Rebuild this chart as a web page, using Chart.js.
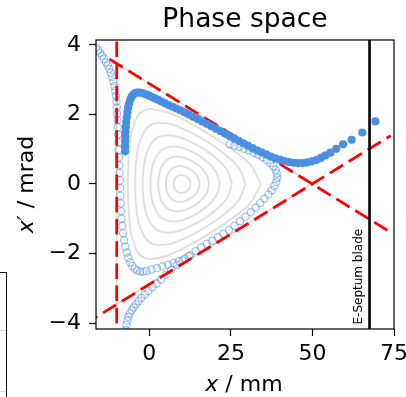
<!DOCTYPE html>
<html>
<head>
<meta charset="utf-8">
<script src="https://cdn.jsdelivr.net/npm/chart.js@4.4.1/dist/chart.umd.min.js"></script>
<style>
  html, body { margin: 0; padding: 0; background: #fff; overflow: hidden; }
  #wrap { position: relative; width: 406px; height: 397px; overflow: hidden; }
  #chart { position: absolute; left: 0; top: 0; }
  .edge { position: absolute; left: -20px; top: 272px; width: 27px; height: 200px; box-sizing: border-box; border: 1.5px solid #111; }
  .hint { position: absolute; left: 0; width: 6px; height: 1px; background: #ddd; }
</style>
</head>
<body>
<div id="wrap">
  <canvas id="chart" width="406" height="397"></canvas>
  <div class="edge"></div>
  <div class="hint" style="top:330px"></div>
  <div class="hint" style="top:391px"></div>
</div>
<script>
const titleText = 'Phase space';
const xTicks = [0, 25, 50, 75];
const yTicks = [-4, -2, 0, 2, 4];
const xRange = [-16.35, 75];
const yRange = [-4.17, 4.14];

// closed invariant curves, [x mm, x' mrad]
const ring1 = [[12.66,0],[12.55,0.068],[12.25,0.13],[11.81,0.181],[11.28,0.221],[10.66,0.247],[10,0.26],[9.32,0.255],[8.67,0.23],[8.13,0.187],[7.75,0.13],[7.53,0.066],[7.45,0],[7.53,-0.066],[7.75,-0.13],[8.13,-0.187],[8.67,-0.23],[9.32,-0.255],[10,-0.26],[10.66,-0.247],[11.28,-0.221],[11.81,-0.181],[12.25,-0.13],[12.55,-0.068],[12.66,0]];
const ring2 = [[15.35,0],[15.09,0.137],[14.42,0.255],[13.51,0.351],[12.45,0.424],[11.28,0.479],[10,0.51],[8.64,0.509],[7.33,0.463],[6.27,0.373],[5.58,0.255],[5.21,0.128],[5.1,0],[5.21,-0.128],[5.58,-0.255],[6.27,-0.373],[7.33,-0.463],[8.64,-0.509],[10,-0.51],[11.28,-0.479],[12.45,-0.424],[13.51,-0.351],[14.42,-0.255],[15.09,-0.137],[15.35,0]];
const ring3 = [[18.3,0],[17.81,0.21],[16.67,0.385],[15.22,0.522],[13.64,0.63],[11.91,0.713],[10,0.77],[7.91,0.781],[5.85,0.719],[4.28,0.572],[3.33,0.385],[2.87,0.191],[2.73,0],[2.87,-0.191],[3.33,-0.385],[4.28,-0.572],[5.85,-0.719],[7.91,-0.781],[10,-0.77],[11.91,-0.713],[13.64,-0.63],[15.22,-0.522],[16.67,-0.385],[17.81,-0.21],[18.3,0]];
const ring4 = [[21.58,0],[20.78,0.289],[19.01,0.52],[16.96,0.696],[14.83,0.836],[12.55,0.951],[10,1.04],[7.11,1.078],[4.21,1.003],[2.11,0.789],[0.99,0.52],[0.49,0.255],[0.35,0],[0.49,-0.255],[0.99,-0.52],[2.11,-0.789],[4.21,-1.003],[7.11,-1.078],[10,-1.04],[12.55,-0.951],[14.83,-0.836],[16.96,-0.696],[19.01,-0.52],[20.78,-0.289],[21.58,0]];
const ring5 = [[25.29,0],[24.01,0.376],[21.43,0.66],[18.72,0.872],[16.03,1.044],[13.19,1.191],[10,1.32],[6.24,1.401],[2.36,1.324],[-0.25,1.025],[-1.43,0.66],[-1.91,0.319],[-2.05,0],[-1.91,-0.319],[-1.43,-0.66],[-0.25,-1.025],[2.36,-1.324],[6.24,-1.401],[10,-1.32],[13.19,-1.191],[16.03,-1.044],[18.72,-0.872],[21.43,-0.66],[24.01,-0.376],[25.29,0]];
const ring6 = [[29.48,0],[27.43,0.467],[23.86,0.8],[20.44,1.044],[17.19,1.244],[13.83,1.427],[10,1.6],[5.33,1.743],[0.26,1.687],[-2.75,1.275],[-3.86,0.8],[-4.27,0.383],[-4.37,0],[-4.27,-0.383],[-3.86,-0.8],[-2.75,-1.275],[0.26,-1.687],[5.33,-1.743],[10,-1.6],[13.83,-1.427],[17.19,-1.244],[20.44,-1.044],[23.86,-0.8],[27.43,-0.467],[29.48,0]];
const ring7 = [[34.2,0],[30.92,0.561],[26.19,0.935],[22.06,1.206],[18.28,1.433],[14.42,1.648],[10,1.87],[4.39,2.092],[-2.1,2.096],[-5.31,1.531],[-6.19,0.935],[-6.48,0.442],[-6.55,0],[-6.48,-0.442],[-6.19,-0.935],[-5.31,-1.531],[-2.1,-2.096],[4.39,-2.092],[10,-1.87],[14.42,-1.648],[18.28,-1.433],[22.06,-1.206],[26.19,-0.935],[30.92,-0.561],[34.2,0]];
const rings = [ring1, ring2, ring3, ring4, ring5, ring6, ring7];

const separatrix = [[-10, 3.46], [50, 0], [-10, -3.46], [-10, 3.46]];

// turn-by-turn particle just outside the stable area (open markers)
const openTrack1 = [[-16.3,3.92],[-15.7,3.85],[-15.1,3.77],[-14.5,3.69],[-13.9,3.6],[-13.3,3.5],[-12.8,3.41],[-12.3,3.31],[-11.8,3.2],[-11.4,3.08],[-11.0,2.95],[-10.7,2.82],[-10.45,2.68],[-10.25,2.53],[-10.1,2.37],[-9.98,2.2],[-9.88,2.02],[-9.78,1.83],[-9.68,1.63],[-9.58,1.42],[-9.48,1.2],[-9.38,0.98],[-9.28,0.76],[-9.18,0.54],[-9.1,0.32],[-9.03,0.1],[-8.96,-0.12],[-8.88,-0.34],[-8.78,-0.56],[-8.65,-0.78],[-8.5,-1.0],[-8.3,-1.21],[-8.05,-1.42],[-7.75,-1.62],[-7.38,-1.8],[-6.95,-1.97],[-6.45,-2.12],[-5.85,-2.25],[-5.2,-2.36],[-4.45,-2.44],[-3.65,-2.49],[-2.8,-2.52],[-1.9,-2.52],[-0.9,-2.5],[0.7,-2.46],[2.3,-2.42],[4.0,-2.37],[5.7,-2.32],[7.4,-2.27],[9.1,-2.22],[10.8,-2.15],[12.5,-2.05],[14.2,-1.93],[15.9,-1.82],[17.6,-1.72],[19.3,-1.63],[21.0,-1.53],[22.7,-1.43],[24.4,-1.32],[26.1,-1.2],[27.8,-1.07],[29.5,-0.94],[31.1,-0.81],[32.6,-0.68],[34.0,-0.55],[35.3,-0.42],[36.5,-0.3],[37.5,-0.18],[38.3,-0.06],[38.9,0.06],[39.2,0.18],[39.1,0.3],[38.7,0.41],[38.0,0.51],[37.1,0.6],[36.0,0.69],[34.8,0.77],[33.5,0.84],[32.1,0.9],[30.6,0.96],[29.1,1.01],[27.6,1.06],[26.1,1.1],[24.7,1.14]];
const openTrack2 = [[-7.3,-4.2],[-7.05,-4.05],[-6.75,-3.93],[-6.4,-3.82],[-5.95,-3.72],[-5.4,-3.63],[-4.8,-3.55],[-4.1,-3.46],[-3.3,-3.37],[-2.4,-3.28],[-1.4,-3.18],[-0.3,-3.08],[0.9,-2.97],[2.2,-2.86],[3.6,-2.74],[5.1,-2.61],[6.7,-2.47],[8.4,-2.33],[10.2,-2.2],[12.1,-2.07]];

// extracted particle (filled markers)
const extracted = [[-7.45,0.94],[-7.45,1.08],[-7.42,1.22],[-7.38,1.36],[-7.3,1.5],[-7.2,1.64],[-7.08,1.78],[-6.92,1.92],[-6.72,2.06],[-6.48,2.2],[-6.18,2.32],[-5.82,2.43],[-5.4,2.51],[-4.9,2.57],[-4.35,2.61],[-3.75,2.63],[-3.1,2.63],[-2.4,2.62],[-1.7,2.6],[-0.9,2.57],[-0.1,2.54],[0.8,2.5],[1.7,2.46],[2.7,2.42],[3.7,2.37],[4.8,2.32],[5.9,2.27],[7.1,2.22],[8.3,2.17],[9.5,2.12],[10.8,2.06],[12.1,2.0],[13.4,1.93],[14.8,1.87],[16.2,1.8],[17.6,1.73],[19.0,1.66],[20.4,1.59],[21.8,1.52],[23.2,1.45],[24.6,1.38],[26.0,1.31],[27.4,1.24],[28.8,1.17],[30.2,1.1],[31.6,1.03],[33.0,0.97],[34.4,0.91],[35.8,0.85],[37.2,0.79],[38.6,0.74],[40.0,0.7],[41.4,0.66],[42.8,0.63],[44.2,0.61],[45.6,0.6],[47.0,0.6],[48.4,0.62],[49.8,0.65],[51.2,0.69],[52.6,0.75],[54.0,0.82],[55.5,0.9],[57.3,1.01],[59.4,1.14],[62.0,1.27],[65.3,1.48],[69.3,1.8]];

const redVertical = [[-10, 4.1], [-10, -4.2]];
const redFalling = [[-12.2, 3.59], [74, -1.39]];
const redRising = [[-20, -4.04], [74, 1.39]];
const septumLine = [[67.5, -5], [67.5, 5]];
const septumText = 'E-Septum blade';
const septumTextAt = [65.2, -4.04];

const FONT = '"DejaVu Sans"';
const toXY = pts => pts.map(([x, y]) => ({ x, y }));

function lineSet(pts, color, width, order, dash) {
  return {
    data: toXY(pts), showLine: true, pointRadius: 0, borderColor: color,
    borderWidth: width, borderDash: dash || [], order: order, clip: 0, tension: 0
  };
}

const datasets = [];
rings.forEach(r => {
  const ds = lineSet(r, '#e0e0e0', 2, 5);
  ds.tension = 0.4;
  datasets.push(ds);
});
datasets.push(lineSet(separatrix, '#d9d9d9', 1.5, 4));
[openTrack1, openTrack2].forEach(t => datasets.push({
  data: toXY(t), pointRadius: 3.6, pointBorderWidth: 1.2,
  pointBorderColor: 'rgba(74,144,226,0.55)', pointBackgroundColor: 'rgba(255,255,255,0)',
  order: 3, clip: 0
}));
datasets.push(lineSet(redVertical, '#ff0000', 2.8, 2, [15.5, 6.7]));
datasets.push(lineSet(redFalling, '#ff0000', 2.8, 2, [15.5, 6.7]));
datasets.push(lineSet(redRising, '#ff0000', 2.8, 2, [15.5, 6.7]));
datasets.push(lineSet(septumLine, '#000000', 2.6, 1));
datasets.push({
  data: toXY(extracted), pointRadius: 4.1, pointBorderWidth: 0,
  pointBackgroundColor: '#4a90e2', order: 0, clip: 0
});

function drawMixed(ctx, parts, size, cx, baseY) {
  const fonts = parts.map(([style]) => (style === 'italic' ? 'italic ' : '') + size + 'px ' + FONT);
  const widths = parts.map(([, t], i) => { ctx.font = fonts[i]; return ctx.measureText(t).width; });
  let x0 = cx - widths.reduce((s, w) => s + w, 0) / 2;
  ctx.textAlign = 'left';
  ctx.textBaseline = 'alphabetic';
  parts.forEach(([, t], i) => { ctx.font = fonts[i]; ctx.fillText(t, x0, baseY); x0 += widths[i]; });
}

const decorations = {
  id: 'decorations',
  afterDraw(chart) {
    const { ctx, chartArea: a, scales: { x, y } } = chart;
    ctx.save();
    ctx.strokeStyle = '#000';
    ctx.lineWidth = 1.2;
    ctx.strokeRect(a.left, a.top, a.right - a.left, a.bottom - a.top);
    ctx.fillStyle = '#000';
    ctx.font = '26.5px ' + FONT;
    ctx.textAlign = 'center';
    ctx.textBaseline = 'alphabetic';
    ctx.fillText(titleText, (a.left + a.right) / 2, 27);
    drawMixed(ctx, [['italic', 'x'], ['normal', ' / mm']], 22, (a.left + a.right) / 2 - 1, 391);
    ctx.save();
    ctx.translate(33, (a.top + a.bottom) / 2);
    ctx.rotate(-Math.PI / 2);
    drawMixed(ctx, [['italic', 'x′'], ['normal', ' / mrad']], 22, 0, 0);
    ctx.restore();
    ctx.save();
    ctx.translate(x.getPixelForValue(septumTextAt[0]), y.getPixelForValue(septumTextAt[1]));
    ctx.rotate(-Math.PI / 2);
    ctx.font = '12px ' + FONT;
    ctx.textAlign = 'left';
    ctx.fillText(septumText, 0, 0);
    ctx.restore();
    ctx.restore();
  }
};

const tickLabel = v => (v < 0 ? '\u2212' + Math.abs(v) : String(v));
const tickGrid = { display: true, drawOnChartArea: false, drawTicks: true, tickLength: 7, tickWidth: 1.2, tickColor: '#000' };

new Chart(document.getElementById('chart'), {
  type: 'scatter',
  data: { datasets },
  options: {
    responsive: false,
    animation: false,
    events: [],
    layout: { padding: { top: 40, right: 12, left: 0, bottom: 0 } },
    plugins: { legend: { display: false }, tooltip: { enabled: false } },
    scales: {
      x: {
        type: 'linear', min: xRange[0], max: xRange[1],
        afterBuildTicks: s => { s.ticks = xTicks.map(v => ({ value: v })); },
        afterFit: s => { s.height = 68; s.paddingLeft = 0; s.paddingRight = 0; },
        ticks: { color: '#000', font: { family: 'DejaVu Sans', size: 22 }, padding: 5, maxRotation: 0, callback: tickLabel },
        grid: tickGrid,
        border: { display: false }
      },
      y: {
        type: 'linear', min: yRange[0], max: yRange[1],
        afterBuildTicks: s => { s.ticks = yTicks.map(v => ({ value: v })); },
        afterFit: s => { s.width = 96; s.paddingTop = 0; s.paddingBottom = 0; },
        ticks: { color: '#000', font: { family: 'DejaVu Sans', size: 22 }, padding: 8, callback: tickLabel },
        grid: tickGrid,
        border: { display: false }
      }
    }
  },
  plugins: [decorations]
});
</script>
</body>
</html>
